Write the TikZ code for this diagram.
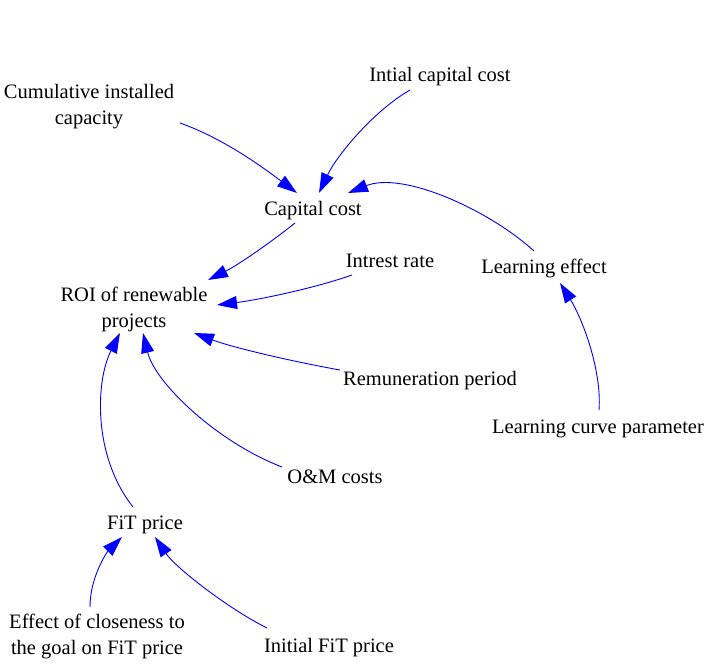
\documentclass[tikz,border=0pt]{standalone}
\usepackage{fontspec}
\setmainfont{Liberation Serif}
\usetikzlibrary{arrows.meta}
\tikzset{
  lbl/.style={inner sep=0pt, font=\fontsize{20.5}{26}\selectfont, text=black},
  arr/.style={draw=blue, line width=0.9pt, -{Triangle[length=20pt,width=13pt]}, fill=none},
}
\begin{document}
\begin{tikzpicture}[x=1pt,y=-1pt]
\useasboundingbox[fill=white] (0,0) rectangle (713,666);
% nodes
\node[lbl, align=center] (cum) at (89,107) {Cumulative installed\\capacity};
\node[lbl, anchor=base] (ini) at (440,82) {Intial capital cost};
\node[lbl, anchor=base] (cap) at (313,215) {Capital cost};
\node[lbl, anchor=base] (int) at (390,268) {Intrest rate};
\node[lbl, anchor=base] (le) at (544,273) {Learning effect};
\node[lbl, align=center] (roi) at (134,309) {ROI of renewable\\projects};
\node[lbl, anchor=base] (rem) at (430,385) {Remuneration period};
\node[lbl, anchor=base] (lcp) at (598,433) {Learning curve parameter};
\node[lbl, anchor=base] (om) at (335,483) {O\&M costs};
\node[lbl, anchor=base] (fit) at (145,529) {FiT price};
\node[lbl, align=center] (eff) at (97,636) {Effect of closeness to\\the goal on FiT price};
\node[lbl, anchor=base] (ifit) at (329,652) {Initial FiT price};
% connectors
\draw[arr] ([shift={(91,16)}]cum.center) .. controls +(45,16) and +(-32,-24) .. ([shift={(-16,-22)}]cap.base);
\draw[arr] ([shift={(-30,8)}]ini.base) .. controls +(-38,22) and +(17,-36) .. ([shift={(6,-22)}]cap.base);
\draw[arr] ([shift={(-10,-22)}]le.base) .. controls +(-45,-41) and +(55,-22) .. ([shift={(35,-22)}]cap.base);
\draw[arr] ([shift={(-18,8)}]cap.base) .. controls +(-25,20) and +(30,-15) .. ([shift={(74,-29)}]roi.center);
\draw[arr] ([shift={(-38,7)}]int.base) .. controls +(-40,14) and +(40,-5) .. ([shift={(83,-4)}]roi.center);
\draw[arr] ([shift={(-90,-15)}]rem.base) .. controls +(-45,-8) and +(40,15) .. ([shift={(60,24)}]roi.center);
\draw[arr] ([shift={(-53,-16)}]om.base) .. controls +(-65,-25) and +(12,50) .. ([shift={(9,24)}]roi.center);
\draw[arr] ([shift={(-12,-22)}]fit.base) .. controls +(-41,-52) and +(-24,47) .. ([shift={(-14,24)}]roi.center);
\draw[arr] ([shift={(-7,-29)}]eff.center) .. controls +(0,-30) and +(-15,15) .. ([shift={(-23,8)}]fit.base);
\draw[arr] ([shift={(-62,-24)}]ifit.base) .. controls +(-40,-20) and +(20,30) .. ([shift={(10,8)}]fit.base);
\draw[arr] ([shift={(1,-23)}]lcp.base) .. controls +(3,-40) and +(22,35) .. ([shift={(16,10)}]le.base);
\end{tikzpicture}
\end{document}
